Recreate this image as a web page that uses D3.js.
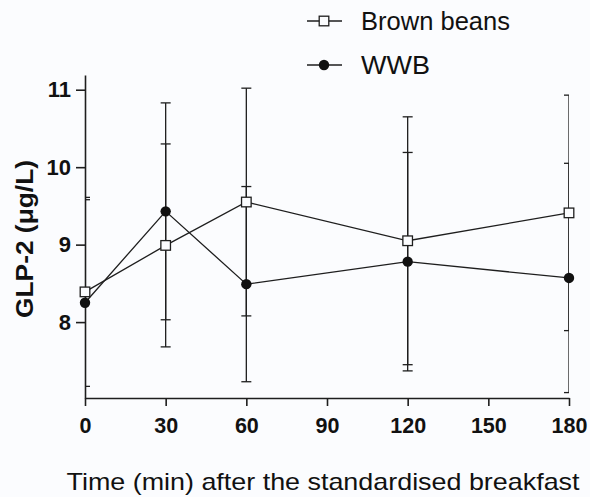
<!DOCTYPE html>
<html>
<head>
<meta charset="utf-8">
<script src="https://cdn.jsdelivr.net/npm/d3@7"></script>
<style>
  body { margin: 0; background: #fbfcfe; }
  svg { display: block; font-family: "Liberation Sans", Arial, sans-serif; }
</style>
</head>
<body>
<svg width="590" height="497"></svg>
<script>
// time points (min)
const times = [0, 30, 60, 120, 180];
const xTicks = [0, 30, 60, 90, 120, 150, 180];
const yTicks = [8, 9, 10, 11];

// GLP-2 means and error
const brownMean = [8.39, 8.99, 9.55, 9.05, 9.41];
const brownErr  = [1.22, 1.31, 1.47, 1.60, 1.52];
const wwbMean   = [8.25, 9.43, 8.49, 8.78, 8.57];
const wwbErr    = [1.33, 1.40, 1.26, 1.41, 1.48];

const series = [
  { name: "Brown beans", mean: brownMean, err: brownErr, marker: "square", textLen: 149 },
  { name: "WWB", mean: wwbMean, err: wwbErr, marker: "circle", textLen: 69 }
];

const ink = "#1e1e1e";
const svg = d3.select("svg");

const x = d3.scaleLinear().domain([0, 180]).range([85, 569]);
const y = d3.scaleLinear().domain([7.02, 11.19]).range([398, 75]);

// clip for error bars (GraphPad cuts them at the plot frame)
svg.append("clipPath").attr("id", "plotclip")
  .append("rect")
    .attr("x", x(0)).attr("y", y.range()[1])
    .attr("width", x(180) - x(0)).attr("height", y.range()[0] - y.range()[1]);

// axes
const xAxis = svg.append("g")
  .attr("transform", `translate(0,${y.range()[0]})`)
  .call(d3.axisBottom(x).tickValues(xTicks).tickSize(8).tickSizeOuter(0).tickPadding(12));

const yAxis = svg.append("g")
  .attr("transform", `translate(${x(0)},0)`)
  .call(d3.axisLeft(y).tickValues(yTicks).tickFormat(d3.format("d"))
    .tickSize(9).tickSizeOuter(0).tickPadding(5));

[xAxis, yAxis].forEach(g => {
  g.select(".domain").attr("stroke", ink).attr("stroke-width", 1.6);
  g.selectAll(".tick line").attr("stroke", ink).attr("stroke-width", 1.6);
  g.selectAll(".tick text")
    .attr("fill", "#111")
    .style("font-weight", "bold");
});
xAxis.selectAll(".tick text").style("font-size", "21.5px");
yAxis.selectAll(".tick text").style("font-size", "22px");

// error bars
const capHalf = 5;
const errG = svg.append("g").attr("clip-path", "url(#plotclip)");
series.forEach(s => {
  const g = errG.append("g");
  times.forEach((t, i) => {
    const hi = s.mean[i] + s.err[i];
    const lo = s.mean[i] - s.err[i];
    g.append("line")
      .attr("x1", x(t)).attr("x2", x(t))
      .attr("y1", y(hi)).attr("y2", y(lo))
      .attr("stroke", ink).attr("stroke-width", 1.3);
    [hi, lo].forEach(v => {
      g.append("line")
        .attr("x1", x(t) - capHalf).attr("x2", x(t) + capHalf)
        .attr("y1", y(v)).attr("y2", y(v))
        .attr("stroke", ink).attr("stroke-width", 1.3);
    });
  });
});

// lines
const line = d3.line().x(d => x(d[0])).y(d => y(d[1]));
series.forEach(s => {
  svg.append("path")
    .datum(times.map((t, i) => [t, s.mean[i]]))
    .attr("fill", "none")
    .attr("stroke", ink)
    .attr("stroke-width", 1.3)
    .attr("d", line);
});

function drawMarker(g, type, cx, cy) {
  if (type === "square") {
    g.append("rect")
      .attr("x", cx - 4.8).attr("y", cy - 4.8)
      .attr("width", 9.6).attr("height", 9.6)
      .attr("fill", "#fbfcfe").attr("stroke", ink).attr("stroke-width", 1.3);
  } else {
    g.append("circle")
      .attr("cx", cx).attr("cy", cy).attr("r", 5.2)
      .attr("fill", "#111");
  }
}

// markers
series.forEach(s => {
  const g = svg.append("g");
  times.forEach((t, i) => drawMarker(g, s.marker, x(t), y(s.mean[i])));
});

// legend
const legend = svg.append("g");
series.forEach((s, i) => {
  const ly = 21 + i * 44;
  legend.append("line")
    .attr("x1", 307).attr("x2", 342)
    .attr("y1", ly).attr("y2", ly)
    .attr("stroke", ink).attr("stroke-width", 1.3);
  drawMarker(legend, s.marker, 324, ly);
  legend.append("text")
    .attr("x", 361).attr("y", ly)
    .attr("dy", "0.36em")
    .attr("fill", "#111")
    .attr("textLength", s.textLen)
    .attr("lengthAdjust", "spacingAndGlyphs")
    .style("font-size", "25px")
    .text(s.name);
});

// axis titles
svg.append("text")
  .attr("transform", `translate(33,239) rotate(-90)`)
  .attr("text-anchor", "middle")
  .attr("fill", "#111")
  .attr("textLength", 158)
  .attr("lengthAdjust", "spacingAndGlyphs")
  .style("font-size", "23px")
  .style("font-weight", "bold")
  .text("GLP-2 (\u03bcg/L)");

svg.append("text")
  .attr("x", 323).attr("y", 490)
  .attr("text-anchor", "middle")
  .attr("fill", "#111")
  .attr("textLength", 513)
  .attr("lengthAdjust", "spacingAndGlyphs")
  .style("font-size", "24px")
  .text("Time (min) after the standardised breakfast");
</script>
</body>
</html>
